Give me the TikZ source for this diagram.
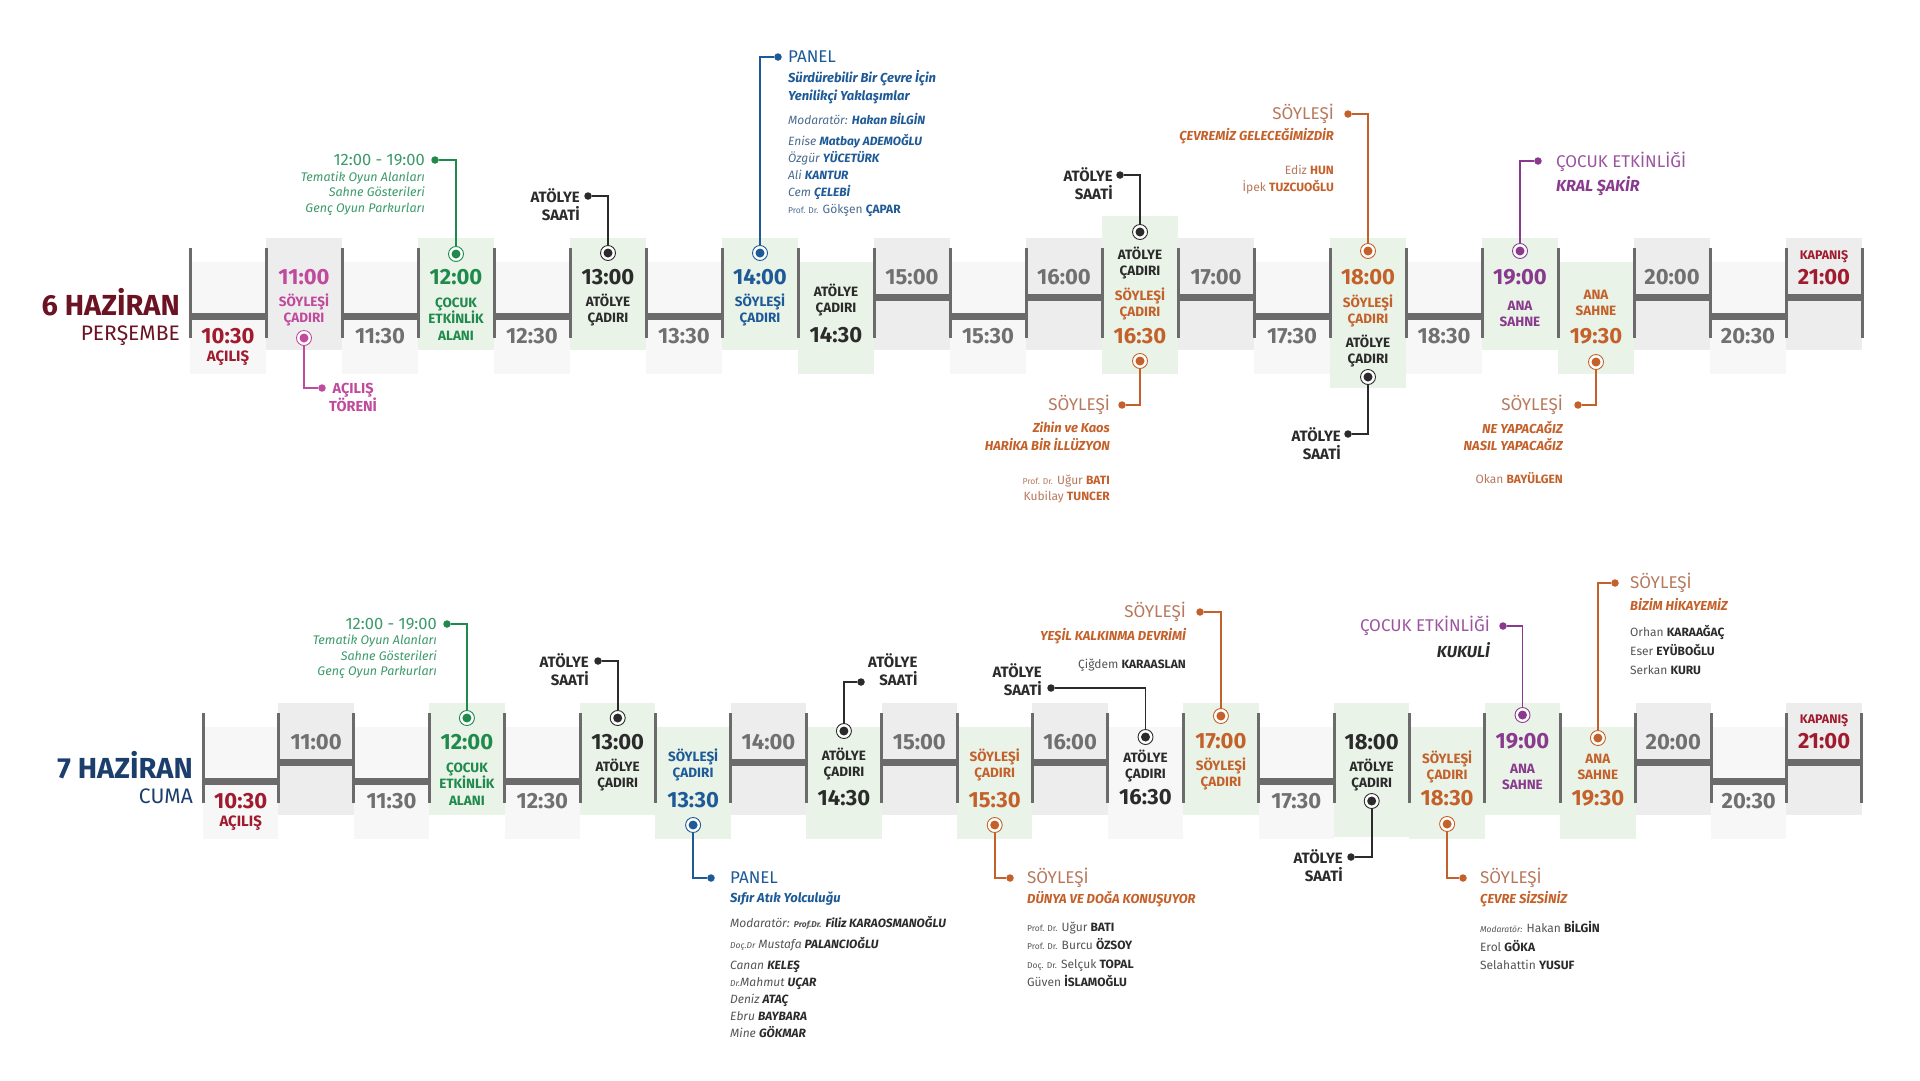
\documentclass[tikz,border=0pt]{standalone}
\usepackage{fontspec}
\setmainfont{Fira Sans}
\usetikzlibrary{positioning}

\definecolor{linegray}{HTML}{6B6B6B}
\definecolor{boxplain}{HTML}{F7F7F7}
\definecolor{boxgray}{HTML}{EEEDED}
\definecolor{boxgreen}{HTML}{E9F3E7}
\definecolor{timegray}{HTML}{707070}
\definecolor{maroon}{HTML}{6B1322}
\definecolor{redtxt}{HTML}{A11B2E}
\definecolor{pinktxt}{HTML}{C04A9C}
\definecolor{greentxt}{HTML}{1F8A4C}
\definecolor{lgreen}{HTML}{3C9A6B}
\definecolor{ink}{HTML}{2B2B2B}
\definecolor{bluetxt}{HTML}{1E5A97}
\definecolor{bluegray}{HTML}{4A6B90}
\definecolor{navy}{HTML}{1B3E6C}
\definecolor{orangetxt}{HTML}{C4612B}
\definecolor{lorange}{HTML}{B8785C}
\definecolor{purpletxt}{HTML}{8A3A8E}
\definecolor{lpurple}{HTML}{9B55A0}
\definecolor{persongray}{HTML}{555555}
\colorlet{slotfill0}{boxplain}
\colorlet{slotfill1}{boxgray}
\colorlet{slotfill2}{boxgreen}
\colorlet{slotfill3}{boxgray}
\colorlet{slotfill4}{boxplain}
\colorlet{slotfill5}{boxplain}
\colorlet{slotfill6}{boxgray}
\colorlet{surname}{ink}

\newcommand{\surn}[1]{\textbf{\color{surname}#1}}
\newcommand{\dr}[1]{{\fontsize{8.5}{10}\selectfont #1}}

\begin{document}
\begin{tikzpicture}[
    x=1pt, y=-1pt,
    every node/.style={inner sep=0pt},
    sep/.style={draw=linegray, line width=3pt},
    bar/.style={draw=linegray, line width=7pt},
    tm/.style={font=\fontsize{22}{24}\selectfont\bfseries},
    sub/.style={font=\fontsize{13.5}{16.5}\selectfont\bfseries, align=center},
    head/.style={font=\fontsize{17}{19}\selectfont},
    hour/.style={font=\fontsize{16.5}{18}\selectfont},
    note/.style={font=\fontsize{12.5}{15.5}\selectfont\itshape, align=right},
    ttl/.style={font=\fontsize{13}{17.5}\selectfont\bfseries\itshape},
    ppl/.style={font=\fontsize{12}{16.8}\selectfont},
    saat/.style={font=\fontsize{15}{18}\selectfont\bfseries, text=ink, align=right},
    snm/.style={execute at begin node={\colorlet{surname}{#1}}},
    marker/.style={circle, draw=#1, line width=0.9pt, fill=white, minimum size=15pt,
        path picture={\fill [#1] (path picture bounding box.center) circle (4.5pt);}},
    dot/.style={circle, fill=#1, minimum size=7.5pt},
    link/.style={draw=#1, line width=1.8pt}
]
\fill [white] (0,0) rectangle (1920,1080);
\useasboundingbox (0,0) rectangle (1920,1080);

% tall slots
\fill [boxgreen] (1102,216) rectangle (1178,373);
\fill [boxgreen] (1330,239) rectangle (1406,388);
\fill [boxgreen] (1334,703) rectangle (1409.4,837);

% time tracks: code 0 plain, 1 grey, 2 green event, 3 grey event, 4 plain event, 5/6 custom label
\foreach \ka/\kb/\t [count=\i from 0] in {5/5/10:30, 3/1/11:00, 0/0/11:30, 2/2/12:00, 0/0/12:30,
    2/2/13:00, 0/2/13:30, 2/1/14:00, 2/2/14:30, 1/1/15:00, 0/2/15:30, 1/1/16:00, 2/4/16:30,
    1/2/17:00, 0/0/17:30, 2/2/18:00, 0/2/18:30, 2/2/19:00, 2/2/19:30, 1/1/20:00, 0/0/20:30, 6/6/21:00}
  \foreach \r/\xo/\w/\dy/\k in {1/190/76/0/\ka, 2/203/75.4/465/\kb} {
    \pgfmathsetmacro\xl{\xo+\w*\i}
    \pgfmathsetmacro\xr{\xl+\w}
    \pgfmathsetmacro\xc{\xl+\w/2}
    \pgfmathsetmacro\yt{(isodd(\i) ? 238 : 262)+\dy}
    \pgfmathsetmacro\yb{(isodd(\i) ? 297 : 316)+\dy}
    \pgfmathsetmacro\ym{(isodd(\i) ? 277 : 336)+\dy}
    \pgfmathtruncatemacro\hasbar{(\k<2)||(\k>4)}
    \fill [fill=slotfill\k] (\xl,\yt) rectangle (\xr,\yt+112);
    \coordinate (s\r-\i) at (\xc,\yb);
    \ifnum\hasbar=1 \draw [bar] (\xl,\yb) -- (\xr,\yb); \fi
    \ifnum\k<2 \node [tm, text=timegray] (t\r-\i) at (\xc,\ym) {\t}; \fi
  }
\foreach \i in {0,...,22} {
    \draw [sep] (190+76*\i,248) -- ++(0,90);
    \draw [sep] (203+75.4*\i,713) -- ++(0,90);
}

% 6 Haziran
\node [font=\fontsize{29}{31}\selectfont\bfseries, text=maroon, anchor=base east] (d1) at (180,315) {6 HAZİRAN};
\node [font=\fontsize{21}{23}\selectfont, text=maroon, anchor=base east] (d1n) at (180,340) {PERŞEMBE};

\node [tm, text=redtxt] (e1-0) at (s1-0 |- 0,336) {10:30};
\node [sub, text=redtxt, font=\fontsize{15}{17}\selectfont\bfseries] (l1-0) at (s1-0 |- 0,358) {AÇILIŞ};
\node [tm, text=pinktxt] (e1-1) at (s1-1 |- 0,277) {11:00};
\node [sub, text=pinktxt] (l1-1) at (s1-1 |- 0,310) {SÖYLEŞİ\\ÇADIRI};
\node [tm, text=greentxt] (e1-3) at (s1-3 |- 0,277) {12:00};
\node [sub, text=greentxt] (l1-3) at (s1-3 |- 0,319) {ÇOCUK\\ETKİNLİK\\ALANI};
\node [tm, text=ink] (e1-5) at (s1-5 |- 0,277) {13:00};
\node [sub, text=ink] (l1-5) at (s1-5 |- 0,310) {ATÖLYE\\ÇADIRI};
\node [tm, text=bluetxt] (e1-7) at (s1-7 |- 0,277) {14:00};
\node [sub, text=bluetxt] (l1-7) at (s1-7 |- 0,310) {SÖYLEŞİ\\ÇADIRI};
\node [sub, text=ink] (l1-8) at (s1-8 |- 0,300) {ATÖLYE\\ÇADIRI};
\node [tm, text=ink] (e1-8) at (s1-8 |- 0,335) {14:30};
\node [sub, text=ink] (l1-12) at (s1-12 |- 0,263) {ATÖLYE\\ÇADIRI};
\node [sub, text=orangetxt] (k1-12) at (s1-12 |- 0,304) {SÖYLEŞİ\\ÇADIRI};
\node [tm, text=orangetxt] (e1-12) at (s1-12 |- 0,336) {16:30};
\node [tm, text=orangetxt] (e1-15) at (s1-15 |- 0,277) {18:00};
\node [sub, text=orangetxt] (k1-15) at (s1-15 |- 0,311) {SÖYLEŞİ\\ÇADIRI};
\node [sub, text=ink] (l1-15) at (s1-15 |- 0,351) {ATÖLYE\\ÇADIRI};
\node [tm, text=purpletxt] (e1-17) at (s1-17 |- 0,277) {19:00};
\node [sub, text=purpletxt] (l1-17) at (s1-17 |- 0,314) {ANA\\SAHNE};
\node [sub, text=orangetxt] (l1-18) at (s1-18 |- 0,303) {ANA\\SAHNE};
\node [tm, text=orangetxt] (e1-18) at (s1-18 |- 0,336) {19:30};
\node [sub, text=redtxt, font=\fontsize{12.5}{14}\selectfont\bfseries] (l1-21) at (s1-21 |- 0,257) {KAPANIŞ};
\node [tm, text=redtxt] (e1-21) at (s1-21 |- 0,277) {21:00};

\node [marker=pinktxt] (m1a) at (s1-1 |- 0,338) {};
\node [marker=greentxt] (m1b) at (s1-3 |- 0,254) {};
\node [marker=ink] (m1c) at (s1-5 |- 0,253) {};
\node [marker=bluetxt] (m1d) at (s1-7 |- 0,253) {};
\node [marker=ink] (m1e) at (s1-12 |- 0,232) {};
\node [marker=orangetxt] (m1f) at (s1-12 |- 0,361) {};
\node [marker=orangetxt] (m1g) at (s1-15 |- 0,251) {};
\node [marker=ink] (m1h) at (s1-15 |- 0,377) {};
\node [marker=purpletxt] (m1i) at (s1-17 |- 0,251) {};
\node [marker=orangetxt] (m1j) at (s1-18 |- 0,362) {};

\node [dot=pinktxt] (g1a) at (322,388) {};
\node [dot=greentxt] (g1b) at (435,160) {};
\node [dot=ink] (g1c) at (588,196) {};
\node [dot=bluetxt] (g1d) at (778,57) {};
\node [dot=ink] (g1e) at (1120,175) {};
\node [dot=orangetxt] (g1f) at (1122,405) {};
\node [dot=orangetxt] (g1g) at (1348,114) {};
\node [dot=ink] (g1h) at (1348,434) {};
\node [dot=purpletxt] (g1i) at (1538,161) {};
\node [dot=orangetxt] (g1j) at (1578,405) {};

\draw [link=pinktxt] (m1a) |- (g1a);
\draw [link=greentxt] (m1b) |- (g1b);
\draw [link=ink] (m1c) |- (g1c);
\draw [link=bluetxt] (m1d) |- (g1d);
\draw [link=ink] (m1e) |- (g1e);
\draw [link=orangetxt] (m1f) |- (g1f);
\draw [link=orangetxt] (m1g) |- (g1g);
\draw [link=ink] (m1h) |- (g1h);
\draw [link=purpletxt] (m1i) |- (g1i);
\draw [link=orangetxt] (m1j) |- (g1j);

\node [sub, text=pinktxt, font=\fontsize{14.5}{18}\selectfont\bfseries, anchor=west] (h1a) at (329,397) {AÇILIŞ\\TÖRENİ};
\node [hour, text=lgreen, left=6pt of g1b] (h1b) {12:00 - 19:00};
\node [note, text=lgreen, anchor=east] (n1b) at (h1b.east |- 0,193.5) {Tematik Oyun Alanları\\Sahne Gösterileri\\Genç Oyun Parkurları};
\node [saat, anchor=east] (h1c) at (580,205) {ATÖLYE\\SAATİ};
\node [head, text=bluetxt, right=6pt of g1d] (h1d) {PANEL};
\node [ttl, text=bluetxt, align=left, anchor=west] (n1d) at (h1d.west |- 0,87) {Sürdürebilir Bir Çevre İçin\\Yenilikçi Yaklaşımlar};
\node [ppl, text=bluegray, snm=bluetxt, anchor=west] (o1d) at (h1d.west |- 0,119) {\itshape Modaratör: \surn{Hakan BİLGİN}};
\node [ppl, text=bluegray, snm=bluetxt, font=\fontsize{12}{16.8}\selectfont\itshape, align=left, anchor=west] (p1d) at (h1d.west |- 0,175.5)
    {Enise \surn{Matbay ADEMOĞLU}\\Özgür \surn{YÜCETÜRK}\\Ali \surn{KANTUR}\\Cem \surn{ÇELEBİ}\\\upshape\dr{Prof. Dr.} Gökşen \surn{ÇAPAR}};
\node [saat, anchor=east] (h1e) at (1113,184) {ATÖLYE\\SAATİ};
\node [head, text=lorange, left=8pt of g1f] (h1f) {SÖYLEŞİ};
\node [ttl, text=orangetxt, align=right, anchor=east] (n1f) at (h1f.east |- 0,436.5) {Zihin ve Kaos\\HARİKA BİR İLLÜZYON};
\node [ppl, text=lorange, snm=orangetxt, align=right, anchor=east, font=\fontsize{12}{16}\selectfont] (p1f) at (h1f.east |- 0,489)
    {\dr{Prof. Dr.} Uğur \surn{BATI}\\Kubilay \surn{TUNCER}};
\node [head, text=lorange, left=10pt of g1g] (h1g) {SÖYLEŞİ};
\node [ttl, text=orangetxt, anchor=east] (n1g) at (h1g.east |- 0,136) {ÇEVREMİZ GELECEĞİMİZDİR};
\node [ppl, text=lorange, snm=orangetxt, align=right, anchor=east] (p1g) at (h1g.east |- 0,179.5)
    {Ediz \surn{HUN}\\İpek \surn{TUZCUOĞLU}};
\node [saat, anchor=east] (h1h) at (1341,443.5) {ATÖLYE\\SAATİ};
\node [head, text=lpurple, anchor=west] (h1i) at (1556,162) {ÇOCUK ETKİNLİĞİ};
\node [ttl, text=purpletxt, font=\fontsize{16}{18}\selectfont\bfseries\itshape, anchor=west] (n1i) at (h1i.west |- 0,186) {KRAL ŞAKİR};
\node [head, text=lorange, left=11pt of g1j] (h1j) {SÖYLEŞİ};
\node [ttl, text=orangetxt, align=right, anchor=east] (n1j) at (h1j.east |- 0,436) {NE YAPACAĞIZ\\NASIL YAPACAĞIZ};
\node [ppl, text=lorange, snm=orangetxt, anchor=east] (p1j) at (h1j.east |- 0,478) {Okan \surn{BAYÜLGEN}};

% 7 Haziran
\node [font=\fontsize{29}{31}\selectfont\bfseries, text=navy, anchor=base east] (d2) at (193,778) {7 HAZİRAN};
\node [font=\fontsize{21}{23}\selectfont, text=navy, anchor=base east] (d2n) at (193,803) {CUMA};

\node [tm, text=redtxt] (e2-0) at (s2-0 |- 0,801) {10:30};
\node [sub, text=redtxt, font=\fontsize{15}{17}\selectfont\bfseries] (l2-0) at (s2-0 |- 0,823) {AÇILIŞ};
\node [tm, text=greentxt] (e2-3) at (s2-3 |- 0,742) {12:00};
\node [sub, text=greentxt] (l2-3) at (s2-3 |- 0,784) {ÇOCUK\\ETKİNLİK\\ALANI};
\node [tm, text=ink] (e2-5) at (s2-5 |- 0,742) {13:00};
\node [sub, text=ink] (l2-5) at (s2-5 |- 0,775) {ATÖLYE\\ÇADIRI};
\node [sub, text=bluetxt] (l2-6) at (s2-6 |- 0,765) {SÖYLEŞİ\\ÇADIRI};
\node [tm, text=bluetxt] (e2-6) at (s2-6 |- 0,800) {13:30};
\node [sub, text=ink] (l2-8) at (s2-8 |- 0,764) {ATÖLYE\\ÇADIRI};
\node [tm, text=ink] (e2-8) at (s2-8 |- 0,798) {14:30};
\node [sub, text=orangetxt] (l2-10) at (s2-10 |- 0,765) {SÖYLEŞİ\\ÇADIRI};
\node [tm, text=orangetxt] (e2-10) at (s2-10 |- 0,800) {15:30};
\node [sub, text=ink] (l2-12) at (s2-12 |- 0,766) {ATÖLYE\\ÇADIRI};
\node [tm, text=ink] (e2-12) at (s2-12 |- 0,797) {16:30};
\node [tm, text=orangetxt] (e2-13) at (s2-13 |- 0,741) {17:00};
\node [sub, text=orangetxt] (l2-13) at (s2-13 |- 0,774) {SÖYLEŞİ\\ÇADIRI};
\node [tm, text=ink] (e2-15) at (s2-15 |- 0,742) {18:00};
\node [sub, text=ink] (l2-15) at (s2-15 |- 0,775) {ATÖLYE\\ÇADIRI};
\node [sub, text=orangetxt] (l2-16) at (s2-16 |- 0,767) {SÖYLEŞİ\\ÇADIRI};
\node [tm, text=orangetxt] (e2-16) at (s2-16 |- 0,798) {18:30};
\node [tm, text=purpletxt] (e2-17) at (s2-17 |- 0,741) {19:00};
\node [sub, text=purpletxt] (l2-17) at (s2-17 |- 0,777) {ANA\\SAHNE};
\node [sub, text=orangetxt] (l2-18) at (s2-18 |- 0,767) {ANA\\SAHNE};
\node [tm, text=orangetxt] (e2-18) at (s2-18 |- 0,798) {19:30};
\node [sub, text=redtxt, font=\fontsize{12.5}{14}\selectfont\bfseries] (l2-21) at (s2-21 |- 0,721) {KAPANIŞ};
\node [tm, text=redtxt] (e2-21) at (s2-21 |- 0,741) {21:00};

\node [marker=greentxt] (m2a) at (s2-3 |- 0,718) {};
\node [marker=ink] (m2b) at (s2-5 |- 0,718) {};
\node [marker=bluetxt] (m2c) at (s2-6 |- 0,825) {};
\node [marker=ink] (m2d) at (s2-8 |- 0,731) {};
\node [marker=orangetxt] (m2e) at (s2-10 |- 0,825) {};
\node [marker=ink] (m2f) at (s2-12 |- 0,737) {};
\node [marker=orangetxt] (m2g) at (s2-13 |- 0,716) {};
\node [marker=ink] (m2h) at (s2-15 |- 0,801) {};
\node [marker=orangetxt] (m2i) at (s2-16 |- 0,824) {};
\node [marker=purpletxt] (m2j) at (s2-17 |- 0,715) {};
\node [marker=orangetxt] (m2k) at (s2-18 |- 0,738) {};

\node [dot=greentxt] (g2a) at (447,624) {};
\node [dot=ink] (g2b) at (598,661) {};
\node [dot=bluetxt] (g2c) at (711,878) {};
\node [dot=ink] (g2d) at (861,682) {};
\node [dot=orangetxt] (g2e) at (1010,878) {};
\node [dot=ink] (g2f) at (1051,688) {};
\node [dot=orangetxt] (g2g) at (1200,612) {};
\node [dot=ink] (g2h) at (1351,857) {};
\node [dot=orangetxt] (g2i) at (1463,878) {};
\node [dot=purpletxt] (g2j) at (1503,626) {};
\node [dot=orangetxt] (g2k) at (1615,583) {};

\draw [link=greentxt] (m2a) |- (g2a);
\draw [link=ink] (m2b) |- (g2b);
\draw [link=bluetxt] (m2c) |- (g2c);
\draw [link=ink] (m2d) |- (g2d);
\draw [link=orangetxt] (m2e) |- (g2e);
\draw [link=ink] (m2f) |- (g2f);
\draw [link=orangetxt] (m2g) |- (g2g);
\draw [link=ink] (m2h) |- (g2h);
\draw [link=orangetxt] (m2i) |- (g2i);
\draw [link=purpletxt] (m2j) |- (g2j);
\draw [link=orangetxt] (m2k) |- (g2k);

\node [hour, text=lgreen, left=6pt of g2a] (h2a) {12:00 - 19:00};
\node [note, text=lgreen, anchor=east] (n2a) at (h2a.east |- 0,657) {Tematik Oyun Alanları\\Sahne Gösterileri\\Genç Oyun Parkurları};
\node [saat, anchor=east] (h2b) at (589,670) {ATÖLYE\\SAATİ};
\node [head, text=bluetxt, right=15pt of g2c] (h2c) {PANEL};
\node [ttl, text=bluetxt, anchor=west] (n2c) at (h2c.west |- 0,899) {Sıfır Atık Yolculuğu};
\node [ppl, text=persongray, font=\fontsize{12}{17}\selectfont\itshape, align=left, anchor=west] (p2c) at (h2c.west |- 0,977)
    {Modaratör: \dr{\bfseries Prof.Dr.} \surn{Filiz KARAOSMANOĞLU}\\[4pt]\dr{Doç.Dr} Mustafa \surn{PALANCIOĞLU}\\[4pt]Canan \surn{KELEŞ}\\\dr{Dr.}Mahmut \surn{UÇAR}\\Deniz \surn{ATAÇ}\\Ebru \surn{BAYBARA}\\Mine \surn{GÖKMAR}};
\node [saat, anchor=west] (h2d) at (868,670) {ATÖLYE\\SAATİ};
\node [head, text=lorange, right=13pt of g2e] (h2e) {SÖYLEŞİ};
\node [ttl, text=orangetxt, anchor=west] (n2e) at (h2e.west |- 0,899) {DÜNYA VE DOĞA KONUŞUYOR};
\node [ppl, text=persongray, align=left, anchor=west, font=\fontsize{12}{18.3}\selectfont] (p2e) at (h2e.west |- 0,954.5)
    {\dr{Prof. Dr.} Uğur \surn{BATI}\\\dr{Prof. Dr.} Burcu \surn{ÖZSOY}\\\dr{Doç. Dr.} Selçuk \surn{TOPAL}\\Güven \surn{İSLAMOĞLU}};
\node [saat, anchor=east] (h2f) at (1042,679.5) {ATÖLYE\\SAATİ};
\node [head, text=lorange, left=10pt of g2g] (h2g) {SÖYLEŞİ};
\node [ttl, text=orangetxt, anchor=east] (n2g) at (h2g.east |- 0,636) {YEŞİL KALKINMA DEVRİMİ};
\node [ppl, text=persongray, anchor=east] (p2g) at (h2g.east |- 0,665) {Çiğdem \surn{KARAASLAN}};
\node [saat, anchor=east] (h2h) at (1343,866) {ATÖLYE\\SAATİ};
\node [head, text=lorange, right=13pt of g2i] (h2i) {SÖYLEŞİ};
\node [ttl, text=orangetxt, anchor=west] (n2i) at (h2i.west |- 0,899) {ÇEVRE SİZSİNİZ};
\node [ppl, text=persongray, align=left, anchor=west, font=\fontsize{12}{18.5}\selectfont] (p2i) at (h2i.west |- 0,945.5)
    {\dr{\itshape Modaratör:} Hakan \surn{BİLGİN}\\Erol \surn{GÖKA}\\Selahattin \surn{YUSUF}};
\node [head, text=lpurple, left=9pt of g2j] (h2j) {ÇOCUK ETKİNLİĞİ};
\node [ttl, text=ink, font=\fontsize{16}{18}\selectfont\bfseries\itshape, anchor=east] (n2j) at (h2j.east |- 0,650) {KUKULİ};
\node [head, text=lorange, right=11pt of g2k] (h2k) {SÖYLEŞİ};
\node [ttl, text=orangetxt, anchor=west] (n2k) at (h2k.west |- 0,604) {BİZİM HİKAYEMİZ};
\node [ppl, text=persongray, align=left, anchor=west, font=\fontsize{12}{19}\selectfont] (p2k) at (h2k.west |- 0,650)
    {Orhan \surn{KARAAĞAÇ}\\Eser \surn{EYÜBOĞLU}\\Serkan \surn{KURU}};
\end{tikzpicture}
\end{document}
